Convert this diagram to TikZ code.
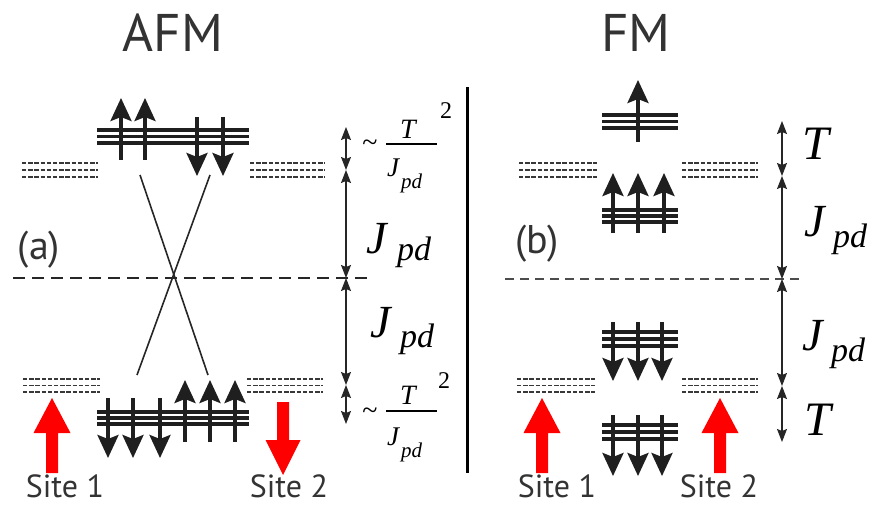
\documentclass[tikz,border=0pt]{standalone}
\usepackage{fontspec}
\setmainfont{Liberation Serif}
\newfontfamily\labfont{PT Sans}
\usetikzlibrary{arrows.meta}
\definecolor{txt}{HTML}{333333}
\definecolor{redarr}{HTML}{FF0000}
\begin{document}
\begin{tikzpicture}[x=1pt,y=-1pt,
  bandline/.style={line width=3.2pt, black!88},
  spin/.style={line width=3.4pt, black!88, -{Stealth[length=23pt,width=21pt,inset=4pt]}},
  lvl/.style={line width=1.7pt, black!78, dash pattern=on 4.4pt off 1.8pt},
  dimarr/.style={line width=1.2pt, black!85, {Stealth[length=13pt,width=10pt,inset=2pt]}-{Stealth[length=13pt,width=10pt,inset=2pt]}},
  crossline/.style={line width=1.6pt, black!85},
  title/.style={font=\labfont\fontsize{53}{60}\selectfont, text=txt, inner sep=0pt, anchor=base},
  panlab/.style={font=\labfont\fontsize{40}{46}\selectfont, text=txt, inner sep=0pt},
  sitelab/.style={font=\labfont\fontsize{32}{38}\selectfont, text=txt, inner sep=0pt, anchor=base},
  bigJ/.style={font=\itshape\fontsize{46}{52}\selectfont, inner sep=0pt, anchor=base west},
  bigpd/.style={font=\itshape\fontsize{34}{40}\selectfont, inner sep=0pt, anchor=base west},
  bigT/.style={font=\itshape\fontsize{48}{54}\selectfont, inner sep=0pt, anchor=base},
  smT/.style={font=\itshape\fontsize{28}{32}\selectfont, inner sep=0pt, anchor=base},
  smJ/.style={font=\itshape\fontsize{27}{32}\selectfont, inner sep=0pt, anchor=base west},
  smpd/.style={font=\itshape\fontsize{21}{25}\selectfont, inner sep=0pt, anchor=base west},
  smtwo/.style={font=\fontsize{24}{28}\selectfont, inner sep=0pt, anchor=base},
  tild/.style={font=\fontsize{28}{32}\selectfont, inner sep=0pt},
]
\useasboundingbox (0,0) rectangle (892,505);

% titles and labels
\node[title] (afm) at (173,52) {AFM};
\node[title] (fm) at (636,52) {FM};
\node[panlab] (la) at (39,250) {(a)};
\node[panlab] (lb) at (537,244) {(b)};
\node[sitelab] (s1a) at (65,497) {Site 1};
\node[sitelab] (s2a) at (289,497) {Site 2};
\node[sitelab] (s1b) at (557,497) {Site 1};
\node[sitelab] (s2b) at (719,497) {Site 2};

% separator
\draw[line width=3pt, black] (467,87) -- (467,473);

% ---------- AFM ----------
\draw[line width=2.6pt, black!85, dash pattern=on 12pt off 7pt] (13,278) -- (372,278);
\foreach \yy in {163,170,177} {
  \draw[lvl] (22,\yy) -- (98,\yy);
  \draw[lvl] (250,\yy) -- (325,\yy);
}
\foreach \yy in {379,385.5,392} {
  \draw[lvl] (23,\yy) -- (100,\yy);
  \draw[lvl] (247,\yy) -- (323,\yy);
}
\foreach \yy in {130,136.5,143} \draw[bandline] (97,\yy) -- (249,\yy);
\foreach \yy in {412,418,424} \draw[bandline] (97,\yy) -- (249,\yy);
\foreach \xx in {121,145} \draw[spin] (\xx,160) -- (\xx,98);
\foreach \xx in {197,223} \draw[spin] (\xx,117) -- (\xx,176);
\foreach \xx in {108,133,160} \draw[spin] (\xx,398) -- (\xx,458);
\foreach \xx in {185,210,235} \draw[spin] (\xx,442) -- (\xx,380);
\draw[crossline] (140,175) -- (208,375);
\draw[crossline] (210,175) -- (137,375);
\fill[redarr] (46,473) -- (46,433) -- (33.5,433) -- (52,398) -- (70.5,433) -- (58,433) -- (58,473) -- cycle;
\fill[redarr] (277,402) -- (277,440) -- (265.5,440) -- (283,475) -- (300.5,440) -- (289,440) -- (289,402) -- cycle;
\coordinate (da0) at (346,127);
\coordinate (da1) at (346,170);
\coordinate (da2) at (346,278);
\coordinate (da3) at (346,385);
\coordinate (da4) at (346,424);
\draw[dimarr] (da0) -- (da1);
\draw[dimarr] (da1) -- (da2);
\draw[dimarr] (da2) -- (da3);
\draw[dimarr] (da3) -- (da4);
\node[bigJ] (ja1) at (366,254) {J};
\node[bigpd] (pa1) at (397,261) {pd};
\node[bigJ] (ja2) at (370,337) {J};
\node[bigpd] (pa2) at (400,347) {pd};
% upper fraction
\node[tild] (ti1) at (370,146) {\textasciitilde};
\draw[line width=1.2pt] (386,144) -- (437,144);
\node[smT] (tu1) at (408,139) {T};
\node[smJ] (ju1) at (387,177) {J};
\node[smpd] (pu1) at (401,189) {pd};
\node[smtwo] (tw1) at (446,119) {2};
% lower fraction
\node[tild] (ti2) at (370,414) {\textasciitilde};
\draw[line width=1.2pt] (386,411) -- (437,411);
\node[smT] (tu2) at (408,404) {T};
\node[smJ] (ju2) at (387,445) {J};
\node[smpd] (pu2) at (401,457) {pd};
\node[smtwo] (tw2) at (444,388) {2};

% ---------- FM ----------
\draw[line width=1.6pt, black!70, dash pattern=on 9pt off 6pt] (505,279) -- (803,279);
\foreach \yy in {163,170,177} {
  \draw[lvl] (519,\yy) -- (597,\yy);
  \draw[lvl] (682,\yy) -- (758,\yy);
}
\foreach \yy in {379,385.5,392} {
  \draw[lvl] (517,\yy) -- (595,\yy);
  \draw[lvl] (682,\yy) -- (758,\yy);
}
\foreach \yy in {115,121.5,128} \draw[bandline] (602,\yy) -- (678,\yy);
\foreach \yy in {210,216,222} \draw[bandline] (602,\yy) -- (678,\yy);
\foreach \yy in {332,339,346} \draw[bandline] (602,\yy) -- (678,\yy);
\foreach \yy in {425,432,439} \draw[bandline] (602,\yy) -- (678,\yy);
\draw[spin] (638,142) -- (638,80);
\foreach \xx in {613,638,664} \draw[spin] (\xx,233) -- (\xx,173);
\foreach \xx in {613,638,662} \draw[spin] (\xx,322) -- (\xx,381);
\foreach \xx in {613,638,662} \draw[spin] (\xx,415) -- (\xx,476);
\fill[redarr] (536,473) -- (536,433) -- (523.5,433) -- (542,398) -- (560.5,433) -- (548,433) -- (548,473) -- cycle;
\fill[redarr] (714,473) -- (714,433) -- (701.5,433) -- (720,398) -- (738.5,433) -- (726,433) -- (726,473) -- cycle;
\coordinate (db0) at (782,121);
\coordinate (db1) at (782,176);
\coordinate (db2) at (782,279);
\coordinate (db3) at (782,386);
\coordinate (db4) at (782,442);
\draw[dimarr] (db0) -- (db1);
\draw[dimarr] (db1) -- (db2);
\draw[dimarr] (db2) -- (db3);
\draw[dimarr] (db3) -- (db4);
\node[bigT] (tb1) at (816,160) {T};
\node[bigJ] (jb1) at (804,237) {J};
\node[bigpd] (pb1) at (833,248) {pd};
\node[bigJ] (jb2) at (802,350) {J};
\node[bigpd] (pb2) at (831,361) {pd};
\node[bigT] (tb2) at (818,435) {T};
\end{tikzpicture}
\end{document}
